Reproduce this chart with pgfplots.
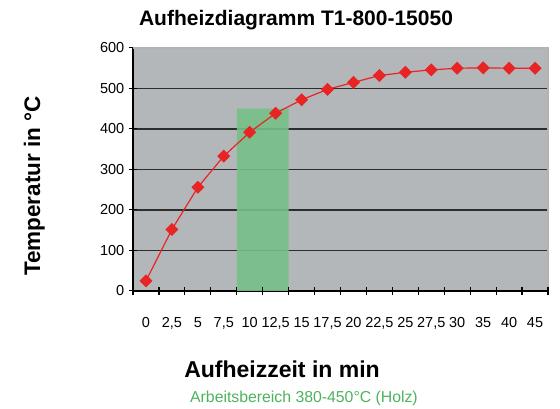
\documentclass[border=0pt]{standalone}
\usepackage{pgfplots}
\pgfplotsset{compat=1.18}
\usepackage{fontspec}
\setmainfont{Liberation Sans}
\definecolor{plotbg}{RGB}{180,183,186}
\definecolor{zonegreen}{RGB}{118,192,135}
\definecolor{txtgreen}{RGB}{78,178,92}
\definecolor{linered}{RGB}{232,36,36}
\definecolor{gridc}{RGB}{45,45,45}
\begin{document}
\begin{tikzpicture}
\useasboundingbox (0pt,0pt) rectangle (560pt,409pt);
\begin{axis}[
  name=ax,
  at={(133pt,118pt)}, anchor=south west,
  scale only axis, width=415pt, height=243pt,
  xmin=-0.5, xmax=15.5, ymin=0, ymax=600,
  axis background/.style={fill=plotbg},
  axis x line*=bottom, axis y line*=left,
  axis line style={black, line width=1.2pt, -},
  xtick={-0.5,0.5,...,15.5},
  x tick label as interval,
  xticklabels={0,{2,5},5,{7,5},10,{12,5},15,{17,5},20,{22,5},25,{27,5},30,35,40,45},
  ytick={0,100,...,500},
  extra y ticks={600},
  extra y tick style={grid=none},
  ymajorgrids,
  major grid style={gridc, line width=1.1pt},
  x tick style={draw=black, line width=1.2pt},
  y tick style={draw=black, line width=1pt},
  tick align=center,
  major tick length=8.5pt,
  xticklabel style={font=\fontsize{14.5}{14.5}\selectfont, anchor=base, yshift=-32pt, inner sep=0pt},
  yticklabel style={font=\fontsize{14.5}{14.5}\selectfont, xshift=-1pt},
  /pgf/number format/assume math mode=true,
  clip=false,
]
\addplot[fill=zonegreen, fill opacity=0.9, draw=none] coordinates {(3.5,0) (3.5,450) (5.5,450) (5.5,0)} \closedcycle;
\fill[black!30] (axis cs:15.47,0) rectangle (axis cs:15.53,600);
\fill[black!30] (axis cs:-0.5,597) rectangle (axis cs:15.53,603);
\pgfplotsinvokeforeach{-0.5,0.5,...,15.5}{
  \fill[black] (axis cs:#1-0.02,-11) rectangle (axis cs:#1+0.02,11);
}
\addplot[linered, line width=1.2pt, mark=square*, mark size=4pt, mark options={rotate=45, fill=linered, draw=linered}]
coordinates {
(0,25) (1,152) (2,256) (3,333) (4,392) (5,439) (6,472) (7,498)
(8,515) (9,532) (10,540) (11,546) (12,550) (13,551) (14,550) (15,550)
};
\end{axis}
\node[font=\bfseries\fontsize{21}{21}\selectfont, anchor=base] at (296pt,383pt) {Aufheizdiagramm T1-800-15050};
\node[font=\bfseries\fontsize{22.5}{22.5}\selectfont, rotate=90, anchor=base] at (40pt,223pt) {Temperatur in °C};
\node[font=\bfseries\fontsize{23}{23}\selectfont, anchor=base] at (282pt,31pt) {Aufheizzeit in min};
\node[font=\fontsize{15.8}{15.8}\selectfont, text=txtgreen, anchor=base] at (304pt,6pt) {Arbeitsbereich 380-450°C (Holz)};
\end{tikzpicture}
\end{document}
